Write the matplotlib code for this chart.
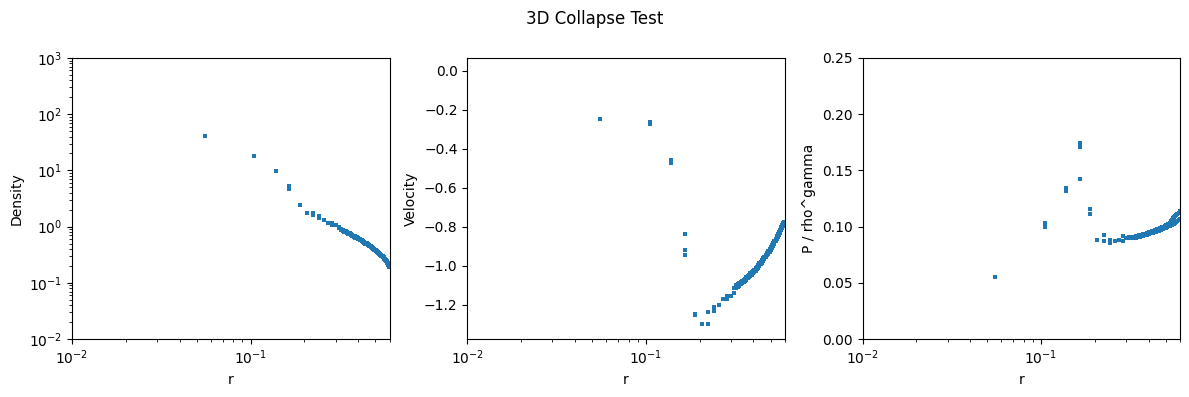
import matplotlib
matplotlib.use("Agg")
import matplotlib.pyplot as plt
import numpy as np

# ---- data ----
# inner (sparse) points, shared radii
r_inner = [0.0553, 0.105, 0.105, 0.138, 0.138, 0.165, 0.165, 0.165, 0.188, 0.188,
           0.207, 0.224, 0.224, 0.242, 0.242, 0.258, 0.272, 0.286, 0.286, 0.300,
           0.312, 0.312]
dens_inner = [41.7, 18.3, 18.1, 9.9, 9.7, 5.3, 4.8, 4.6, 2.44, 2.40,
              1.76, 1.78, 1.62, 1.52, 1.40, 1.33, 1.18, 1.17, 1.08, 1.09,
              1.00, 0.93]
vel_inner = [-0.246, -0.264, -0.275, -0.460, -0.475, -0.835, -0.918, -0.943, -1.245, -1.252,
             -1.296, -1.296, -1.235, -1.210, -1.230, -1.200, -1.169, -1.154, -1.169, -1.154,
             -1.116, -1.137]
pent_inner = [0.0551, 0.103, 0.100, 0.1345, 0.1315, 0.1747, 0.1711, 0.1426, 0.1158, 0.1113,
              0.0881, 0.0926, 0.0872, 0.0884, 0.0854, 0.0872, 0.0878, 0.0913, 0.0875, 0.0899,
              0.0899, 0.0905]

# outer (dense) band, shared radii
r_outer = [0.322, 0.328, 0.334, 0.341, 0.347, 0.353, 0.359, 0.366, 0.372, 0.379,
           0.385, 0.392, 0.398, 0.405, 0.412, 0.419, 0.426, 0.433, 0.440, 0.447,
           0.455, 0.462, 0.470, 0.477, 0.485, 0.493, 0.501, 0.509, 0.517, 0.525,
           0.533, 0.541, 0.549, 0.557, 0.565, 0.573, 0.581, 0.589, 0.597]
dens_hi = [0.90, 0.87, 0.85, 0.83, 0.80, 0.78, 0.76, 0.73, 0.71, 0.69,
           0.67, 0.65, 0.63, 0.61, 0.59, 0.575, 0.555, 0.54, 0.52, 0.505,
           0.49, 0.47, 0.455, 0.44, 0.42, 0.405, 0.39, 0.375, 0.36, 0.345,
           0.33, 0.315, 0.30, 0.285, 0.27, 0.255, 0.24, 0.225, 0.205]
dens_lo = [0.86, 0.84, 0.81, 0.79, 0.77, 0.75, 0.73, 0.71, 0.68, 0.66,
           0.64, 0.62, 0.61, 0.59, 0.57, 0.55, 0.535, 0.515, 0.50, 0.485,
           0.47, 0.455, 0.44, 0.42, 0.405, 0.39, 0.375, 0.36, 0.345, 0.33,
           0.315, 0.30, 0.285, 0.27, 0.255, 0.24, 0.225, 0.21, 0.19]
vel_hi = [-1.100, -1.095, -1.090, -1.083, -1.077, -1.071, -1.065, -1.058, -1.052, -1.045,
          -1.039, -1.032, -1.026, -1.019, -1.012, -1.004, -0.996, -0.988, -0.980, -0.971,
          -0.962, -0.953, -0.943, -0.934, -0.924, -0.914, -0.904, -0.893, -0.882, -0.871,
          -0.860, -0.849, -0.838, -0.826, -0.814, -0.803, -0.791, -0.780, -0.775]
vel_lo = [-1.115, -1.108, -1.102, -1.095, -1.090, -1.084, -1.078, -1.070, -1.064, -1.058,
          -1.052, -1.045, -1.039, -1.031, -1.024, -1.017, -1.009, -1.001, -0.992, -0.984,
          -0.975, -0.966, -0.957, -0.947, -0.938, -0.928, -0.918, -0.908, -0.897, -0.886,
          -0.875, -0.864, -0.853, -0.841, -0.830, -0.818, -0.806, -0.795, -0.790]
pent_hi = [0.0905, 0.0908, 0.0911, 0.0915, 0.0918, 0.0921, 0.0925, 0.0928, 0.0931, 0.0935,
           0.0938, 0.0942, 0.0946, 0.0950, 0.0954, 0.0958, 0.0962, 0.0966, 0.0970, 0.0975,
           0.0980, 0.0985, 0.0990, 0.0995, 0.1000, 0.1006, 0.1012, 0.1018, 0.1026, 0.1035,
           0.1050, 0.1062, 0.1075, 0.1085, 0.1095, 0.1105, 0.1115, 0.1125, 0.1135]
pent_lo = [0.0895, 0.0898, 0.0900, 0.0903, 0.0906, 0.0909, 0.0912, 0.0915, 0.0918, 0.0921,
           0.0924, 0.0928, 0.0931, 0.0935, 0.0939, 0.0943, 0.0947, 0.0951, 0.0955, 0.0959,
           0.0963, 0.0967, 0.0972, 0.0976, 0.0981, 0.0986, 0.0991, 0.0996, 0.1001, 0.1006,
           0.1011, 0.1016, 0.1021, 0.1027, 0.1033, 0.1040, 0.1047, 0.1055, 0.1065]

r_all = r_inner + r_outer + r_outer
dens_all = dens_inner + dens_hi + dens_lo
vel_all = vel_inner + vel_hi + vel_lo
pent_all = pent_inner + pent_hi + pent_lo

color = "#1f77b4"
fig, axes = plt.subplots(1, 3, figsize=(11.89, 3.97), dpi=100)
fig.subplots_adjust(left=0.0606, right=0.9924, top=0.854, bottom=0.146, wspace=0.245)
fig.suptitle("3D Collapse Test", y=0.975)

kw = dict(linestyle="none", marker="s", markersize=2.4, markeredgewidth=0,
          color=color)

ax = axes[0]
ax.plot(r_all, dens_all, **kw)
ax.set_xscale("log")
ax.set_yscale("log")
ax.set_xlim(1e-2, 0.6)
ax.set_ylim(1e-2, 1e3)
ax.set_xlabel("r")
ax.set_ylabel("Density")

ax = axes[1]
ax.plot(r_all, vel_all, **kw)
ax.set_xscale("log")
ax.set_xlim(1e-2, 0.6)
ax.set_ylim(-1.375, 0.065)
ax.set_xlabel("r")
ax.set_ylabel("Velocity")

ax = axes[2]
ax.plot(r_all, pent_all, **kw)
ax.set_xscale("log")
ax.set_xlim(1e-2, 0.6)
ax.set_ylim(0, 0.25)
ax.set_xlabel("r")
ax.set_ylabel("P / rho^gamma")

fig.savefig("out.png", dpi=100)
